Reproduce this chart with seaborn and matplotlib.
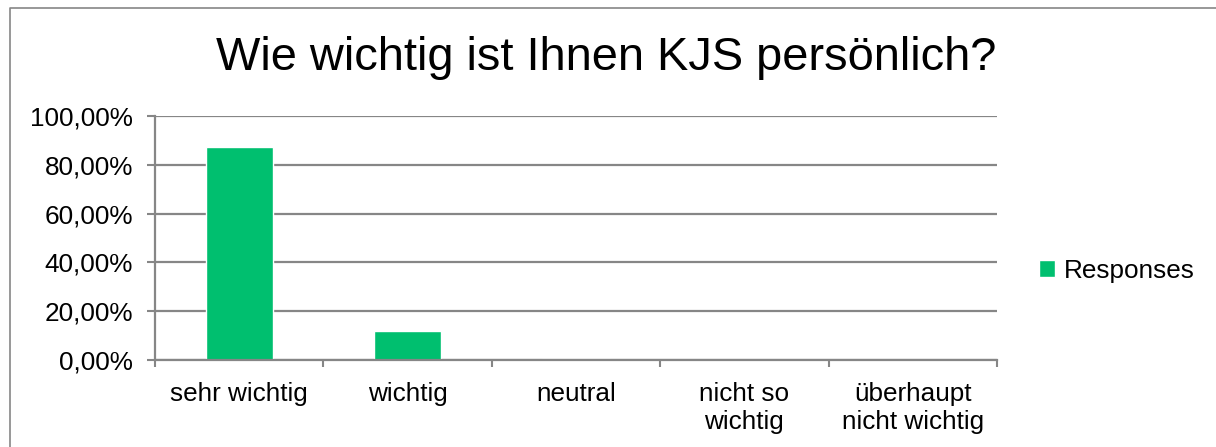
import numpy as np
import pandas as pd
import matplotlib
matplotlib.use('Agg')
import matplotlib.pyplot as plt
import seaborn as sns
from matplotlib.ticker import FuncFormatter, FixedLocator

# Daten
kategorien = ['sehr wichtig', 'wichtig', 'neutral', 'nicht so\nwichtig', 'überhaupt\nnicht wichtig']
anteile = [0.872, 0.119, 0.004, 0.0, 0.0]
serie = 'Responses'
titel = 'Wie wichtig ist Ihnen KJS persönlich?'

df = pd.DataFrame({'kategorie': kategorien, 'anteil': anteile, 'serie': serie})

sns.set_style('white')
plt.rcParams['font.family'] = ['Liberation Sans', 'DejaVu Sans']
plt.rcParams['text.color'] = 'black'
plt.rcParams['xtick.color'] = 'black'
plt.rcParams['ytick.color'] = 'black'

grau = '#868686'
gruen = '#00BF6F'

fig = plt.figure(figsize=(12.16, 4.47), dpi=100)
ax = fig.add_axes([155 / 1216, 1 - 360 / 447, 842 / 1216, 244 / 447])

sns.barplot(data=df, x='kategorie', y='anteil', hue='serie', palette=[gruen],
            width=0.4, ax=ax, saturation=1)

ax.set_ylim(0, 1.0)
ax.set_xlim(-0.5, 4.5)
ax.set_yticks(np.arange(0, 1.01, 0.2))
ax.yaxis.set_major_formatter(FuncFormatter(lambda v, p: f'{v*100:.2f}%'.replace('.', ',')))
ax.yaxis.grid(True, color=grau, linewidth=1.6)
ax.set_axisbelow(True)

ax.xaxis.set_minor_locator(FixedLocator(np.arange(-0.5, 4.6, 1)))
ax.tick_params(axis='x', which='major', bottom=True, length=0, labelsize=18.8, pad=16,
               labelcolor='black')
ax.tick_params(axis='x', which='minor', bottom=True, length=5, width=1.5, color=grau,
               direction='out')
ax.tick_params(axis='y', left=True, length=6, width=1.5, color=grau, direction='out',
               labelsize=18.8, pad=10, labelcolor='black')

for s in ['top', 'right']:
    ax.spines[s].set_visible(False)
for s in ['left', 'bottom']:
    ax.spines[s].set_color(grau)
    ax.spines[s].set_linewidth(1.6)

ax.set_xlabel('')
ax.set_ylabel('')

leg = ax.legend(loc='center left', bbox_to_anchor=(1.05, 0.365), frameon=False,
                fontsize=18.8, handlelength=0.6, handleheight=0.6, handletextpad=0.35,
                borderpad=0, borderaxespad=0)

fig.text(606 / 1216, 1 - 70 / 447, titel, ha='center', va='baseline', fontsize=33.8,
         color='black')

# Rahmen um das Diagramm (nur links und oben sichtbar)
fig.add_artist(plt.Line2D([9.5 / 1216, 9.5 / 1216, 1.0], [0.0, 1 - 7.5 / 447, 1 - 7.5 / 447],
                          transform=fig.transFigure, color=grau, linewidth=1.2))

fig.savefig('out.png', dpi=100)
